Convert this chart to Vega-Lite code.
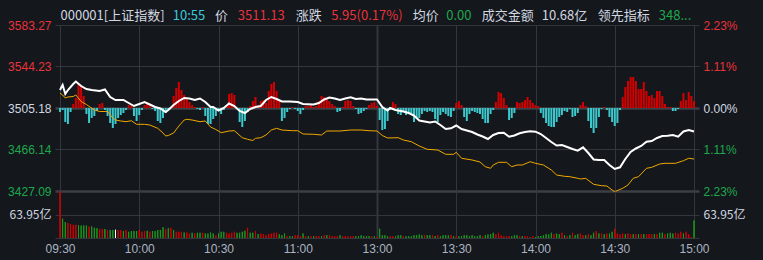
{
"$schema": "https://vega.github.io/schema/vega-lite/v6.json",
"background": "#14171c",
"padding": 0,
"spacing": 0,
"bounds": "flush",
"config": {"view": {"stroke": null}, "axis": {"domain": false, "ticks": false, "labelFont": "Liberation Sans", "labelFontSize": 12, "gridColor": "#33363c", "gridOpacity": 1, "labelFlush": false, "labelOverlap": false, "labelBound": false, "title": null}},
"datasets": {
"mins": [
{"m":0,"b":-4,"v":126.8,"d":"u"},{"m":1,"b":-2,"v":52.7,"d":"g"},{"m":2,"b":-14,"v":43.7,"d":"g"},{"m":3,"b":-16,"v":40.8,"d":"u"},{"m":4,"b":-4,"v":38,"d":"u"},{"m":5,"b":4,"v":35.8,"d":"u"},{"m":6,"b":10,"v":35.8,"d":"u"},{"m":7,"b":24,"v":35.2,"d":"g"},{"m":8,"b":22,"v":33.8,"d":"g"},{"m":9,"b":12,"v":33.8,"d":"g"},
{"m":10,"b":-6,"v":33.8,"d":"g"},{"m":11,"b":-15,"v":31,"d":"u"},{"m":12,"b":-10,"v":31,"d":"g"},{"m":13,"b":-8,"v":28.2,"d":"g"},{"m":14,"b":-3,"v":26.8,"d":"g"},{"m":15,"b":4,"v":24.5,"d":"u"},{"m":16,"b":5,"v":24.5,"d":"u"},{"m":17,"b":-2,"v":24.5,"d":"g"},{"m":18,"b":-8,"v":21.7,"d":"u"},{"m":19,"b":-15,"v":21.7,"d":"g"},
{"m":20,"b":-20,"v":21.7,"d":"g"},{"m":21,"b":-16,"v":22.5,"d":"w"},{"m":22,"b":-10,"v":21.7,"d":"u"},{"m":23,"b":-7,"v":21.7,"d":"u"},{"m":24,"b":-5,"v":18.9,"d":"g"},{"m":25,"b":-2,"v":21.7,"d":"u"},{"m":26,"b":3,"v":16.9,"d":"g"},{"m":27,"b":2,"v":18.9,"d":"g"},{"m":28,"b":-8,"v":18.9,"d":"g"},{"m":29,"b":-13,"v":18.9,"d":"g"},
{"m":30,"b":-7,"v":21.7,"d":"u"},{"m":31,"b":-2,"v":16.9,"d":"u"},{"m":32,"b":3,"v":18.9,"d":"u"},{"m":33,"b":6,"v":19.7,"d":"g"},{"m":34,"b":3,"v":16.9,"d":"u"},{"m":35,"b":-1,"v":18.9,"d":"g"},{"m":36,"b":-3,"v":18.9,"d":"g"},{"m":37,"b":-13,"v":21.7,"d":"g"},{"m":38,"b":-15,"v":21.7,"d":"g"},{"m":39,"b":-10,"v":29.3,"d":"g"},
{"m":40,"b":-5,"v":24.5,"d":"u"},{"m":41,"b":-2,"v":26.2,"d":"g"},{"m":42,"b":1,"v":28.2,"d":"u"},{"m":43,"b":12,"v":21.7,"d":"g"},{"m":44,"b":20,"v":16.9,"d":"u"},{"m":45,"b":26,"v":16.9,"d":"u"},{"m":46,"b":18,"v":16.9,"d":"u"},{"m":47,"b":13,"v":14.9,"d":"g"},{"m":48,"b":10,"v":14.9,"d":"u"},{"m":49,"b":6,"v":12.4,"d":"u"},
{"m":50,"b":3,"v":14.1,"d":"g"},{"m":51,"b":1,"v":12.4,"d":"u"},{"m":52,"b":-1,"v":14.1,"d":"g"},{"m":53,"b":-2,"v":14.1,"d":"g"},{"m":54,"b":1,"v":14.1,"d":"u"},{"m":55,"b":-8,"v":12.4,"d":"g"},{"m":56,"b":-16,"v":12.4,"d":"g"},{"m":57,"b":-16,"v":14.9,"d":"g"},{"m":58,"b":-11,"v":12.4,"d":"g"},{"m":59,"b":-8,"v":7.6,"d":"u"},
{"m":60,"b":-3,"v":12.4,"d":"g"},{"m":61,"b":-6,"v":16.9,"d":"g"},{"m":62,"b":-2,"v":16.9,"d":"g"},{"m":63,"b":2,"v":14.1,"d":"u"},{"m":64,"b":14,"v":12.4,"d":"u"},{"m":65,"b":15,"v":14.1,"d":"u"},{"m":66,"b":13,"v":16.9,"d":"u"},{"m":67,"b":-1,"v":14.1,"d":"g"},{"m":68,"b":-14,"v":14.1,"d":"g"},{"m":69,"b":-19,"v":16.9,"d":"g"},
{"m":70,"b":-13,"v":19.7,"d":"g"},{"m":71,"b":-4,"v":28.2,"d":"u"},{"m":72,"b":2,"v":14.1,"d":"g"},{"m":73,"b":7,"v":14.1,"d":"g"},{"m":74,"b":11,"v":18.9,"d":"u"},{"m":75,"b":3,"v":10.4,"d":"g"},{"m":76,"b":7,"v":12.4,"d":"u"},{"m":77,"b":8,"v":10.4,"d":"u"},{"m":78,"b":5,"v":7.6,"d":"u"},{"m":79,"b":17,"v":10.4,"d":"u"},
{"m":80,"b":24,"v":12.4,"d":"u"},{"m":81,"b":26,"v":14.1,"d":"u"},{"m":82,"b":17,"v":14.1,"d":"u"},{"m":83,"b":8,"v":10.4,"d":"g"},{"m":84,"b":-13,"v":7.6,"d":"g"},{"m":85,"b":-10,"v":12.4,"d":"g"},{"m":86,"b":-4,"v":4.8,"d":"u"},{"m":87,"b":-1,"v":4.8,"d":"g"},{"m":88,"b":1,"v":4.8,"d":"g"},{"m":89,"b":-1,"v":7.6,"d":"u"},
{"m":90,"b":-3,"v":7.6,"d":"u"},{"m":91,"b":-6,"v":5.6,"d":"u"},{"m":92,"b":-2,"v":12.4,"d":"g"},{"m":93,"b":2,"v":4.8,"d":"u"},{"m":94,"b":2,"v":4.8,"d":"g"},{"m":95,"b":3,"v":4.8,"d":"u"},{"m":96,"b":1,"v":4.8,"d":"g"},{"m":97,"b":2,"v":5.6,"d":"u"},{"m":98,"b":7,"v":4.8,"d":"u"},{"m":99,"b":12,"v":4.8,"d":"g"},
{"m":100,"b":11,"v":7.6,"d":"u"},{"m":101,"b":9,"v":7.6,"d":"g"},{"m":102,"b":7,"v":7.6,"d":"u"},{"m":103,"b":4,"v":4.8,"d":"u"},{"m":104,"b":2,"v":4.8,"d":"u"},{"m":105,"b":-4,"v":4.8,"d":"u"},{"m":106,"b":-3,"v":7.6,"d":"g"},{"m":107,"b":1,"v":4.8,"d":"u"},{"m":108,"b":7,"v":4.8,"d":"u"},{"m":109,"b":8,"v":4.8,"d":"u"},
{"m":110,"b":7,"v":4.8,"d":"u"},{"m":111,"b":2,"v":4.8,"d":"u"},{"m":112,"b":-1,"v":4.8,"d":"g"},{"m":113,"b":-6,"v":4.8,"d":"g"},{"m":114,"b":-5,"v":7.6,"d":"g"},{"m":115,"b":-3,"v":4.8,"d":"g"},{"m":116,"b":-1,"v":4.8,"d":"g"},{"m":117,"b":3,"v":4.8,"d":"g"},{"m":118,"b":5,"v":4.8,"d":"u"},{"m":119,"b":6,"v":4.8,"d":"g"},
{"m":120,"b":2,"v":2.8,"d":"u"},{"m":121,"b":-12,"v":25.4,"d":"g"},{"m":122,"b":-22,"v":7.6,"d":"g"},{"m":123,"b":-21,"v":7.6,"d":"g"},{"m":124,"b":-13,"v":4.8,"d":"g"},{"m":125,"b":-2,"v":4.8,"d":"u"},{"m":126,"b":6,"v":4.8,"d":"u"},{"m":127,"b":4,"v":4.8,"d":"g"},{"m":128,"b":-6,"v":7.6,"d":"g"},{"m":129,"b":-7,"v":7.6,"d":"g"},
{"m":130,"b":-4,"v":4.8,"d":"u"},{"m":131,"b":-7,"v":4.8,"d":"g"},{"m":132,"b":-6,"v":4.8,"d":"g"},{"m":133,"b":-6,"v":4.8,"d":"g"},{"m":134,"b":-14,"v":7.6,"d":"g"},{"m":135,"b":-11,"v":7.6,"d":"g"},{"m":136,"b":-10,"v":9.3,"d":"g"},{"m":137,"b":-6,"v":7.6,"d":"g"},{"m":138,"b":-3,"v":7.6,"d":"u"},{"m":139,"b":-4,"v":7.6,"d":"g"},
{"m":140,"b":-3,"v":7.6,"d":"g"},{"m":141,"b":-4,"v":7.6,"d":"u"},{"m":142,"b":-11,"v":5.6,"d":"g"},{"m":143,"b":-14,"v":7.6,"d":"u"},{"m":144,"b":-7,"v":4.8,"d":"g"},{"m":145,"b":-4,"v":7.6,"d":"g"},{"m":146,"b":-6,"v":7.6,"d":"g"},{"m":147,"b":-8,"v":7.6,"d":"g"},{"m":148,"b":-9,"v":7.6,"d":"u"},{"m":149,"b":-3,"v":4.8,"d":"g"},
{"m":150,"b":5,"v":4.8,"d":"u"},{"m":151,"b":7,"v":4.8,"d":"g"},{"m":152,"b":3,"v":4.8,"d":"g"},{"m":153,"b":-9,"v":7.6,"d":"g"},{"m":154,"b":-13,"v":7.6,"d":"g"},{"m":155,"b":-6,"v":4.8,"d":"g"},{"m":156,"b":-3,"v":7.6,"d":"g"},{"m":157,"b":-4,"v":4.8,"d":"g"},{"m":158,"b":-5,"v":4.8,"d":"g"},{"m":159,"b":-6,"v":7.6,"d":"g"},
{"m":160,"b":-11,"v":4.8,"d":"u"},{"m":161,"b":-15,"v":7.6,"d":"g"},{"m":162,"b":-15,"v":9.3,"d":"g"},{"m":163,"b":-6,"v":10.4,"d":"g"},{"m":164,"b":-2,"v":14.1,"d":"g"},{"m":165,"b":6,"v":10.4,"d":"u"},{"m":166,"b":16,"v":14.1,"d":"u"},{"m":167,"b":15,"v":7.6,"d":"u"},{"m":168,"b":10,"v":4.8,"d":"u"},{"m":169,"b":3,"v":4.8,"d":"u"},
{"m":170,"b":-12,"v":4.8,"d":"u"},{"m":171,"b":-10,"v":4.8,"d":"g"},{"m":172,"b":-5,"v":7.6,"d":"g"},{"m":173,"b":6,"v":7.6,"d":"g"},{"m":174,"b":5,"v":4.8,"d":"u"},{"m":175,"b":6,"v":4.8,"d":"g"},{"m":176,"b":8,"v":4.8,"d":"u"},{"m":177,"b":11,"v":4.8,"d":"u"},{"m":178,"b":8,"v":2.8,"d":"u"},{"m":179,"b":5,"v":4.8,"d":"u"},
{"m":180,"b":3,"v":2.8,"d":"g"},{"m":181,"b":2,"v":4.8,"d":"g"},{"m":182,"b":-5,"v":5.6,"d":"g"},{"m":183,"b":-10,"v":7.6,"d":"g"},{"m":184,"b":-15,"v":10.4,"d":"g"},{"m":185,"b":-18,"v":9.3,"d":"g"},{"m":186,"b":-19,"v":14.1,"d":"g"},{"m":187,"b":-19,"v":10.4,"d":"u"},{"m":188,"b":-14,"v":12.4,"d":"g"},{"m":189,"b":-9,"v":10.4,"d":"g"},
{"m":190,"b":-7,"v":14.1,"d":"u"},{"m":191,"b":-3,"v":7.6,"d":"g"},{"m":192,"b":-4,"v":4.8,"d":"u"},{"m":193,"b":-1,"v":7.6,"d":"g"},{"m":194,"b":-9,"v":14.1,"d":"u"},{"m":195,"b":-8,"v":7.6,"d":"g"},{"m":196,"b":-5,"v":10.4,"d":"g"},{"m":197,"b":3,"v":12.4,"d":"u"},{"m":198,"b":6,"v":7.6,"d":"u"},{"m":199,"b":2,"v":7.6,"d":"g"},
{"m":200,"b":-13,"v":10.4,"d":"u"},{"m":201,"b":-20,"v":7.6,"d":"g"},{"m":202,"b":-25,"v":14.1,"d":"g"},{"m":203,"b":-20,"v":18.9,"d":"u"},{"m":204,"b":-9,"v":12.4,"d":"g"},{"m":205,"b":-1,"v":12.4,"d":"u"},{"m":206,"b":1,"v":10.4,"d":"g"},{"m":207,"b":-2,"v":12.4,"d":"u"},{"m":208,"b":-9,"v":12.4,"d":"g"},{"m":209,"b":-14,"v":16.9,"d":"g"},
{"m":210,"b":-18,"v":25.4,"d":"u"},{"m":211,"b":-15,"v":12.4,"d":"u"},{"m":212,"b":-2,"v":10.4,"d":"u"},{"m":213,"b":11,"v":12.4,"d":"u"},{"m":214,"b":21,"v":10.4,"d":"g"},{"m":215,"b":27,"v":12.4,"d":"u"},{"m":216,"b":31,"v":10.4,"d":"u"},{"m":217,"b":31,"v":10.4,"d":"g"},{"m":218,"b":27,"v":10.4,"d":"u"},{"m":219,"b":19,"v":10.4,"d":"g"},
{"m":220,"b":19,"v":10.4,"d":"u"},{"m":221,"b":26,"v":10.4,"d":"g"},{"m":222,"b":17,"v":10.4,"d":"u"},{"m":223,"b":12,"v":10.4,"d":"u"},{"m":224,"b":13,"v":10.4,"d":"u"},{"m":225,"b":10,"v":10.4,"d":"g"},{"m":226,"b":17,"v":10.4,"d":"u"},{"m":227,"b":17,"v":14.1,"d":"g"},{"m":228,"b":12,"v":14.1,"d":"g"},{"m":229,"b":4,"v":10.4,"d":"u"},
{"m":230,"b":1,"v":12.4,"d":"g"},{"m":231,"b":1,"v":14.1,"d":"g"},{"m":232,"b":-3,"v":12.4,"d":"g"},{"m":233,"b":-3,"v":14.1,"d":"u"},{"m":234,"b":-1,"v":12.4,"d":"u"},{"m":235,"b":7,"v":16.9,"d":"u"},{"m":236,"b":15,"v":12.4,"d":"g"},{"m":237,"b":8,"v":16.9,"d":"u"},{"m":238,"b":16,"v":10.4,"d":"u"},{"m":239,"b":12,"v":2.8,"d":"u"},
{"m":240,"b":7,"v":47.9,"d":"g"}
],
"white": [
{"m":0,"p":3522.12},{"m":1,"p":3526.82},{"m":2,"p":3518.35},{"m":3,"p":3522.12},{"m":5,"p":3527.76},{"m":6,"p":3530.11},{"m":8,"p":3525.88},{"m":10,"p":3523.06},{"m":12,"p":3522.12},{"m":15,"p":3521.17},{"m":17,"p":3522.59},{"m":19,"p":3515.53},{"m":21,"p":3512.71},{"m":24,"p":3512.71},{"m":26,"p":3509.88},{"m":28,"p":3507.06},{"m":30,"p":3508.94},{"m":32,"p":3510.83},{"m":34,"p":3508.47},{"m":36,"p":3506.12},{"m":38,"p":3504.71},{"m":40,"p":3501.42},{"m":41,"p":3503.3},{"m":43,"p":3508.0},{"m":45,"p":3511.77},{"m":47,"p":3514.59},{"m":49,"p":3514.12},{"m":51,"p":3512.71},{"m":53,"p":3514.12},{"m":55,"p":3510.83},{"m":57,"p":3506.12},{"m":58,"p":3506.12},{"m":60,"p":3502.83},{"m":62,"p":3505.18},{"m":64,"p":3509.41},{"m":66,"p":3507.06},{"m":68,"p":3502.36},{"m":70,"p":3500.48},{"m":72,"p":3504.24},{"m":74,"p":3506.12},{"m":76,"p":3507.06},{"m":78,"p":3512.71},{"m":80,"p":3515.53},{"m":82,"p":3513.65},{"m":84,"p":3511.3},{"m":87,"p":3511.3},{"m":90,"p":3510.83},{"m":92,"p":3508.94},{"m":96,"p":3508.47},{"m":98,"p":3509.88},{"m":100,"p":3513.18},{"m":102,"p":3515.06},{"m":104,"p":3514.12},{"m":106,"p":3512.71},{"m":108,"p":3514.12},{"m":110,"p":3515.25},{"m":112,"p":3513.65},{"m":114,"p":3514.12},{"m":116,"p":3513.18},{"m":118,"p":3513.18},{"m":120,"p":3513.18},{"m":122,"p":3506.12},{"m":124,"p":3502.83},{"m":125,"p":3505.18},{"m":127,"p":3503.3},{"m":130,"p":3501.89},{"m":132,"p":3500.48},{"m":134,"p":3498.12},{"m":136,"p":3493.42},{"m":138,"p":3492.48},{"m":140,"p":3491.54},{"m":142,"p":3492.48},{"m":144,"p":3489.19},{"m":146,"p":3485.42},{"m":148,"p":3486.08},{"m":150,"p":3488.72},{"m":152,"p":3485.42},{"m":154,"p":3484.01},{"m":156,"p":3482.6},{"m":158,"p":3480.25},{"m":160,"p":3478.37},{"m":162,"p":3476.01},{"m":164,"p":3479.78},{"m":166,"p":3481.66},{"m":168,"p":3481.94},{"m":170,"p":3478.18},{"m":172,"p":3479.31},{"m":174,"p":3481.38},{"m":176,"p":3482.6},{"m":178,"p":3483.26},{"m":180,"p":3482.88},{"m":182,"p":3480.72},{"m":184,"p":3476.96},{"m":186,"p":3473.19},{"m":188,"p":3469.9},{"m":190,"p":3470.37},{"m":192,"p":3468.49},{"m":194,"p":3466.61},{"m":196,"p":3465.01},{"m":198,"p":3468.21},{"m":200,"p":3462.84},{"m":202,"p":3456.73},{"m":204,"p":3456.26},{"m":206,"p":3456.26},{"m":208,"p":3451.55},{"m":210,"p":3447.79},{"m":212,"p":3449.39},{"m":214,"p":3457.2},{"m":216,"p":3463.78},{"m":218,"p":3467.08},{"m":220,"p":3469.43},{"m":222,"p":3473.47},{"m":224,"p":3474.13},{"m":226,"p":3476.96},{"m":228,"p":3478.84},{"m":230,"p":3479.12},{"m":232,"p":3479.78},{"m":234,"p":3478.18},{"m":236,"p":3483.07},{"m":238,"p":3484.48},{"m":240,"p":3483.07}
],
"lead": [
{"m":0,"p":3519.3},{"m":1,"p":3517.41},{"m":2,"p":3514.59},{"m":3,"p":3515.53},{"m":5,"p":3516.0},{"m":6,"p":3517.41},{"m":8,"p":3511.3},{"m":10,"p":3508.47},{"m":13,"p":3503.3},{"m":15,"p":3501.89},{"m":18,"p":3501.89},{"m":20,"p":3495.77},{"m":21,"p":3493.89},{"m":23,"p":3492.95},{"m":25,"p":3492.29},{"m":27,"p":3493.23},{"m":29,"p":3489.84},{"m":32,"p":3489.84},{"m":34,"p":3489.19},{"m":37,"p":3486.08},{"m":39,"p":3481.66},{"m":40,"p":3478.84},{"m":41,"p":3479.31},{"m":43,"p":3481.66},{"m":45,"p":3488.25},{"m":47,"p":3493.89},{"m":48,"p":3494.55},{"m":50,"p":3493.89},{"m":53,"p":3492.29},{"m":55,"p":3492.95},{"m":57,"p":3487.3},{"m":59,"p":3484.95},{"m":61,"p":3481.94},{"m":64,"p":3483.54},{"m":66,"p":3483.82},{"m":69,"p":3477.24},{"m":71,"p":3475.73},{"m":73,"p":3474.6},{"m":74,"p":3476.67},{"m":76,"p":3477.24},{"m":78,"p":3479.78},{"m":80,"p":3484.48},{"m":82,"p":3486.08},{"m":84,"p":3484.48},{"m":88,"p":3483.82},{"m":90,"p":3483.82},{"m":92,"p":3480.72},{"m":96,"p":3480.44},{"m":99,"p":3479.78},{"m":101,"p":3483.54},{"m":106,"p":3483.54},{"m":110,"p":3484.48},{"m":114,"p":3484.48},{"m":117,"p":3483.82},{"m":120,"p":3483.54},{"m":122,"p":3479.31},{"m":124,"p":3476.96},{"m":128,"p":3477.24},{"m":130,"p":3475.07},{"m":133,"p":3473.47},{"m":136,"p":3469.43},{"m":139,"p":3466.32},{"m":143,"p":3465.66},{"m":146,"p":3461.62},{"m":149,"p":3461.62},{"m":150,"p":3463.5},{"m":152,"p":3457.86},{"m":156,"p":3456.26},{"m":159,"p":3454.37},{"m":161,"p":3449.95},{"m":163,"p":3448.45},{"m":164,"p":3451.55},{"m":166,"p":3454.09},{"m":169,"p":3454.09},{"m":171,"p":3449.95},{"m":173,"p":3451.55},{"m":175,"p":3451.55},{"m":178,"p":3454.66},{"m":180,"p":3453.15},{"m":183,"p":3451.55},{"m":186,"p":3446.85},{"m":188,"p":3442.14},{"m":191,"p":3440.92},{"m":193,"p":3440.55},{"m":196,"p":3439.04},{"m":197,"p":3438.38},{"m":199,"p":3439.04},{"m":202,"p":3433.39},{"m":205,"p":3432.08},{"m":207,"p":3431.79},{"m":209,"p":3428.03},{"m":210,"p":3426.43},{"m":213,"p":3429.63},{"m":215,"p":3432.74},{"m":217,"p":3439.04},{"m":219,"p":3440.55},{"m":222,"p":3448.45},{"m":224,"p":3449.39},{"m":227,"p":3452.49},{"m":229,"p":3453.15},{"m":233,"p":3453.15},{"m":236,"p":3455.6},{"m":238,"p":3457.86},{"m":240,"p":3457.2}
]
},
"vconcat": [
{
"width": 644, "height": 166,
"layer": [
{
"data": {"name": "mins"},
"mark": {"type": "bar", "width": 2},
"encoding": {
"x": {"field": "m", "type": "quantitative", "scale": {"domain": [0, 240], "nice": false, "zero": false}, "axis": null},
"y": {"field": "b", "type": "quantitative", "scale": {"domain": [-83, 83], "nice": false}, "axis": null},
"y2": {"datum": 0},
"color": {"condition": {"test": "datum.b > 0", "value": "#d40000"}, "value": "#3cc8cc"}
}
},
{
"data": {"name": "lead"},
"mark": {"type": "line", "color": "#f0a800", "strokeWidth": 1},
"encoding": {
"x": {"field": "m", "type": "quantitative", "scale": {"domain": [0, 240], "nice": false, "zero": false},
 "axis": {"orient": "top", "grid": false, "values": [0, 42.5, 58.5, 67.1, 89.1, 102.5, 133.3, 146, 159.5, 182.2, 203.4, 226.5],
  "labelExpr": "['000001[上证指数]','10:55','价','3511.13','涨跌','5.95(0.17%)','均价','0.00','成交金额','10.68亿','领先指标','348...'][indexof([0, 42.5, 58.5, 67.1, 89.1, 102.5, 133.3, 146, 159.5, 182.2, 203.4, 226.5], datum.value)]",
  "labelAlign": "left", "labelBaseline": "middle", "labelPadding": 10, "labelFont": "Noto Sans CJK SC", "labelFontSize": 13,
  "labelColor": {"condition": [{"test": "datum.value == 42.5", "value": "#3cc8dc"}, {"test": "datum.value == 67.1 || datum.value == 102.5", "value": "#e8333b"}, {"test": "datum.value == 146 || datum.value == 226.5", "value": "#1ea84c"}], "value": "#d2d8e0"},
  "minExtent": 25, "maxExtent": 25}},
"y": {"field": "p", "type": "quantitative", "scale": {"domain": [3427.09, 3583.27], "nice": false, "zero": false},
 "axis": {"orient": "right", "grid": false, "values": [3427.09, 3466.14, 3505.18, 3544.23, 3583.27],
  "labelExpr": "format(abs(datum.value - 3505.18) / 3505.18 * 100, '.2f') + '%'",
  "labelPadding": 4, "labelAlign": "left", "labelBaseline": "middle",
  "labelColor": {"condition": [{"test": "datum.value > 3506", "value": "#e8333b"}, {"test": "datum.value < 3504", "value": "#1ea84c"}], "value": "#d2d8e0"},
  "minExtent": 64, "maxExtent": 64}}
}
},
{
"data": {"name": "white"},
"mark": {"type": "line", "color": "#ffffff", "strokeWidth": 2},
"encoding": {
"x": {"field": "m", "type": "quantitative", "scale": {"domain": [0, 240], "nice": false, "zero": false},
 "axis": {"orient": "bottom", "grid": true, "labels": false, "values": [0, 30, 60, 90, 120, 150, 180, 210, 240],
  "gridWidth": {"condition": {"test": "datum.value == 120", "value": 2}, "value": 1}, "minExtent": 0, "maxExtent": 0}},
"y": {"field": "p", "type": "quantitative", "scale": {"domain": [3427.09, 3583.27], "nice": false, "zero": false},
 "axis": {"orient": "left", "grid": true, "values": [3427.09, 3466.14, 3505.18, 3544.23, 3583.27],
  "format": ".2f", "labelPadding": 4, "labelBaseline": "middle",
  "gridWidth": {"condition": {"test": "datum.value < 3428 || (datum.value > 3505 && datum.value < 3506)", "value": 2.5}, "value": 1},
  "gridColor": {"condition": {"test": "datum.value < 3428 || (datum.value > 3505 && datum.value < 3506)", "value": "#3c3f45"}, "value": "#33363c"},
  "labelColor": {"condition": [{"test": "datum.value > 3506", "value": "#e8333b"}, {"test": "datum.value < 3504", "value": "#1ea84c"}], "value": "#d2d8e0"},
  "minExtent": 55, "maxExtent": 55}}
}
}
],
"resolve": {"scale": {"y": "independent"}, "axis": {"x": "independent", "y": "independent"}}
},
{
"width": 644, "height": 47,
"data": {"name": "mins"},
"layer": [
{
"mark": {"type": "bar", "width": 1},
"encoding": {
"x": {"field": "m", "type": "quantitative", "scale": {"domain": [0, 240], "nice": false, "zero": false},
 "axis": {"orient": "bottom", "grid": true, "values": [0, 30, 60, 90, 120, 150, 180, 210, 240],
  "labelExpr": "['09:30','10:00','10:30','11:00','13:00','13:30','14:00','14:30','15:00'][datum.value / 30]",
  "labelColor": "#aab4c0", "labelPadding": 5, "domain": true, "domainColor": "#33363c",
  "gridWidth": {"condition": {"test": "datum.value == 120", "value": 2}, "value": 1}, "minExtent": 22, "maxExtent": 22}},
"y": {"field": "v", "type": "quantitative", "scale": {"domain": [0, 127.9], "nice": false},
 "axis": {"orient": "left", "grid": true, "values": [63.95], "labelExpr": "'63.95亿'", "labelFont": "Noto Sans CJK SC", "labelColor": "#d2d8e0", "labelPadding": 4, "labelBaseline": "middle", "minExtent": 55, "maxExtent": 55}},
"color": {"field": "d", "type": "nominal", "scale": {"domain": ["u", "g", "w"], "range": ["#d40000", "#1a9a1a", "#ffffff"]}, "legend": null}
}
},
{
"mark": {"type": "bar", "width": 1},
"encoding": {
"x": {"field": "m", "type": "quantitative", "scale": {"domain": [0, 240], "nice": false, "zero": false}, "axis": null},
"y": {"field": "v", "type": "quantitative", "scale": {"domain": [0, 127.9], "nice": false},
 "axis": {"orient": "right", "grid": false, "values": [63.95], "labelExpr": "'63.95亿'", "labelFont": "Noto Sans CJK SC", "labelColor": "#d2d8e0", "labelPadding": 4, "labelAlign": "left", "labelBaseline": "middle", "minExtent": 64, "maxExtent": 64}},
"color": {"field": "d", "type": "nominal", "scale": {"domain": ["u", "g", "w"], "range": ["#d40000", "#1a9a1a", "#ffffff"]}, "legend": null}
}
}
],
"resolve": {"axis": {"y": "independent", "x": "independent"}}
}
]
}
